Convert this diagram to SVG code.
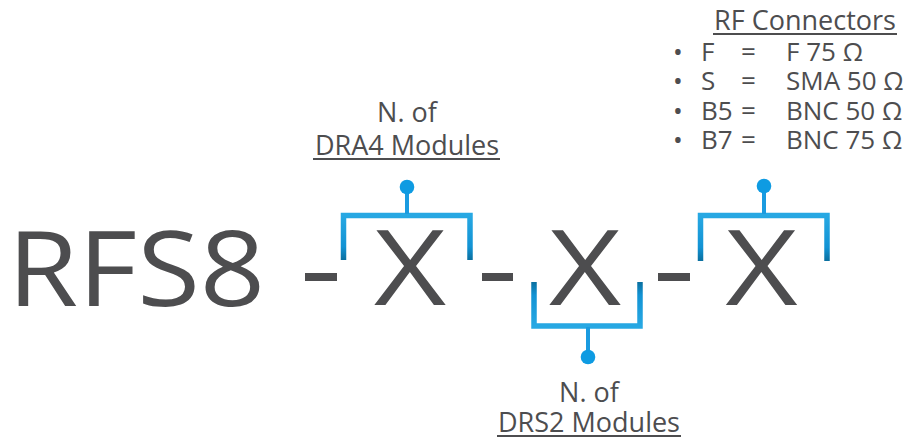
<svg xmlns="http://www.w3.org/2000/svg" width="914" height="439" viewBox="0 0 914 439">
  <style>
    .big { font-family: "Open Sans", "Liberation Sans", sans-serif; font-size: 104px; fill: #4d4d4f; }
    .lbl { font-family: "Open Sans", "Liberation Sans", sans-serif; font-size: 27px; fill: #4d4d4f; }
    .lst { font-family: "Open Sans", "Liberation Sans", sans-serif; font-size: 26px; fill: #4d4d4f; }
    .ul { stroke: #4d4d4f; stroke-width: 2; }
    .dash { fill: #4d4d4f; }
    .br { fill: none; stroke: url(#blueV); stroke-width: 5.5; }
    .stem { stroke: #1a9be0; stroke-width: 4; }
    .dot { fill: #0e9be2; }
  </style>
  <defs>
    <linearGradient id="blueV" x1="0" y1="0" x2="0" y2="1">
      <stop offset="0" stop-color="#27a8e3"/>
      <stop offset="0.7" stop-color="#1293d4"/>
      <stop offset="1" stop-color="#0a6f9f"/>
    </linearGradient>
    <linearGradient id="blueVd" x1="0" y1="1" x2="0" y2="0">
      <stop offset="0" stop-color="#27a8e3"/>
      <stop offset="0.7" stop-color="#1293d4"/>
      <stop offset="1" stop-color="#0a6f9f"/>
    </linearGradient>
  </defs>

  <g id="code">
    <text class="big" transform="translate(7.5,306) scale(1.1,1)" x="0" y="0">RFS8</text>
  </g>

  <g id="dashes">
    <rect class="dash" x="305" y="273" width="32" height="8"/>
    <rect class="dash" x="482" y="273" width="31" height="8"/>
    <rect class="dash" x="658" y="273" width="32" height="8"/>
  </g>

  <g id="x1">
    <text class="big" transform="translate(410,305) scale(1.2,1)" x="0" y="0" text-anchor="middle">X</text>
  </g>
  <g id="x2">
    <text class="big" transform="translate(585,305) scale(1.2,1)" x="0" y="0" text-anchor="middle">X</text>
  </g>
  <g id="x3">
    <text class="big" transform="translate(761.5,305) scale(1.2,1)" x="0" y="0" text-anchor="middle">X</text>
  </g>

  <g id="connectors">
    <path class="br" d="M343.5,260 V215.5 H470 V260"/>
    <line class="stem" x1="407" y1="187" x2="407" y2="214"/>
    <circle class="dot" cx="407" cy="187" r="7.3"/>

    <path class="br" style="stroke:url(#blueVd)" d="M534,282 V326 H640 V282"/>
    <line class="stem" x1="588" y1="327" x2="588" y2="357"/>
    <circle class="dot" cx="588" cy="357" r="7.3"/>

    <path class="br" d="M700.5,261 V215.5 H827 V261"/>
    <line class="stem" x1="764" y1="186" x2="764" y2="214"/>
    <circle class="dot" cx="764" cy="186" r="7.3"/>
  </g>

  <g id="label-dra4">
    <text class="lbl" x="407" y="122" text-anchor="middle">N. of</text>
    <text class="lbl" x="407" y="155" text-anchor="middle">DRA4 Modules</text>
    <line class="ul" x1="313" y1="159" x2="500" y2="159"/>
  </g>

  <g id="label-drs2">
    <text class="lbl" x="589" y="402" text-anchor="middle">N. of</text>
    <text class="lbl" x="589" y="432" text-anchor="middle">DRS2 Modules</text>
    <line class="ul" x1="497" y1="436" x2="681" y2="436"/>
  </g>

  <g id="label-rf">
    <text class="lbl" x="805" y="30" text-anchor="middle">RF Connectors</text>
    <line class="ul" x1="713" y1="34" x2="897" y2="34"/>
    <text class="lst" x="673" y="61">•</text>
    <text class="lst" x="701" y="61">F</text>
    <text class="lst" x="741" y="61">=</text>
    <text class="lst" x="786" y="61">F 75 Ω</text>
    <text class="lst" x="673" y="90">•</text>
    <text class="lst" x="701" y="90">S</text>
    <text class="lst" x="741" y="90">=</text>
    <text class="lst" x="786" y="90">SMA 50 Ω</text>
    <text class="lst" x="673" y="120">•</text>
    <text class="lst" x="701" y="120">B5</text>
    <text class="lst" x="741" y="120">=</text>
    <text class="lst" x="786" y="120">BNC 50 Ω</text>
    <text class="lst" x="673" y="149">•</text>
    <text class="lst" x="701" y="149">B7</text>
    <text class="lst" x="741" y="149">=</text>
    <text class="lst" x="786" y="149">BNC 75 Ω</text>
  </g>
</svg>
